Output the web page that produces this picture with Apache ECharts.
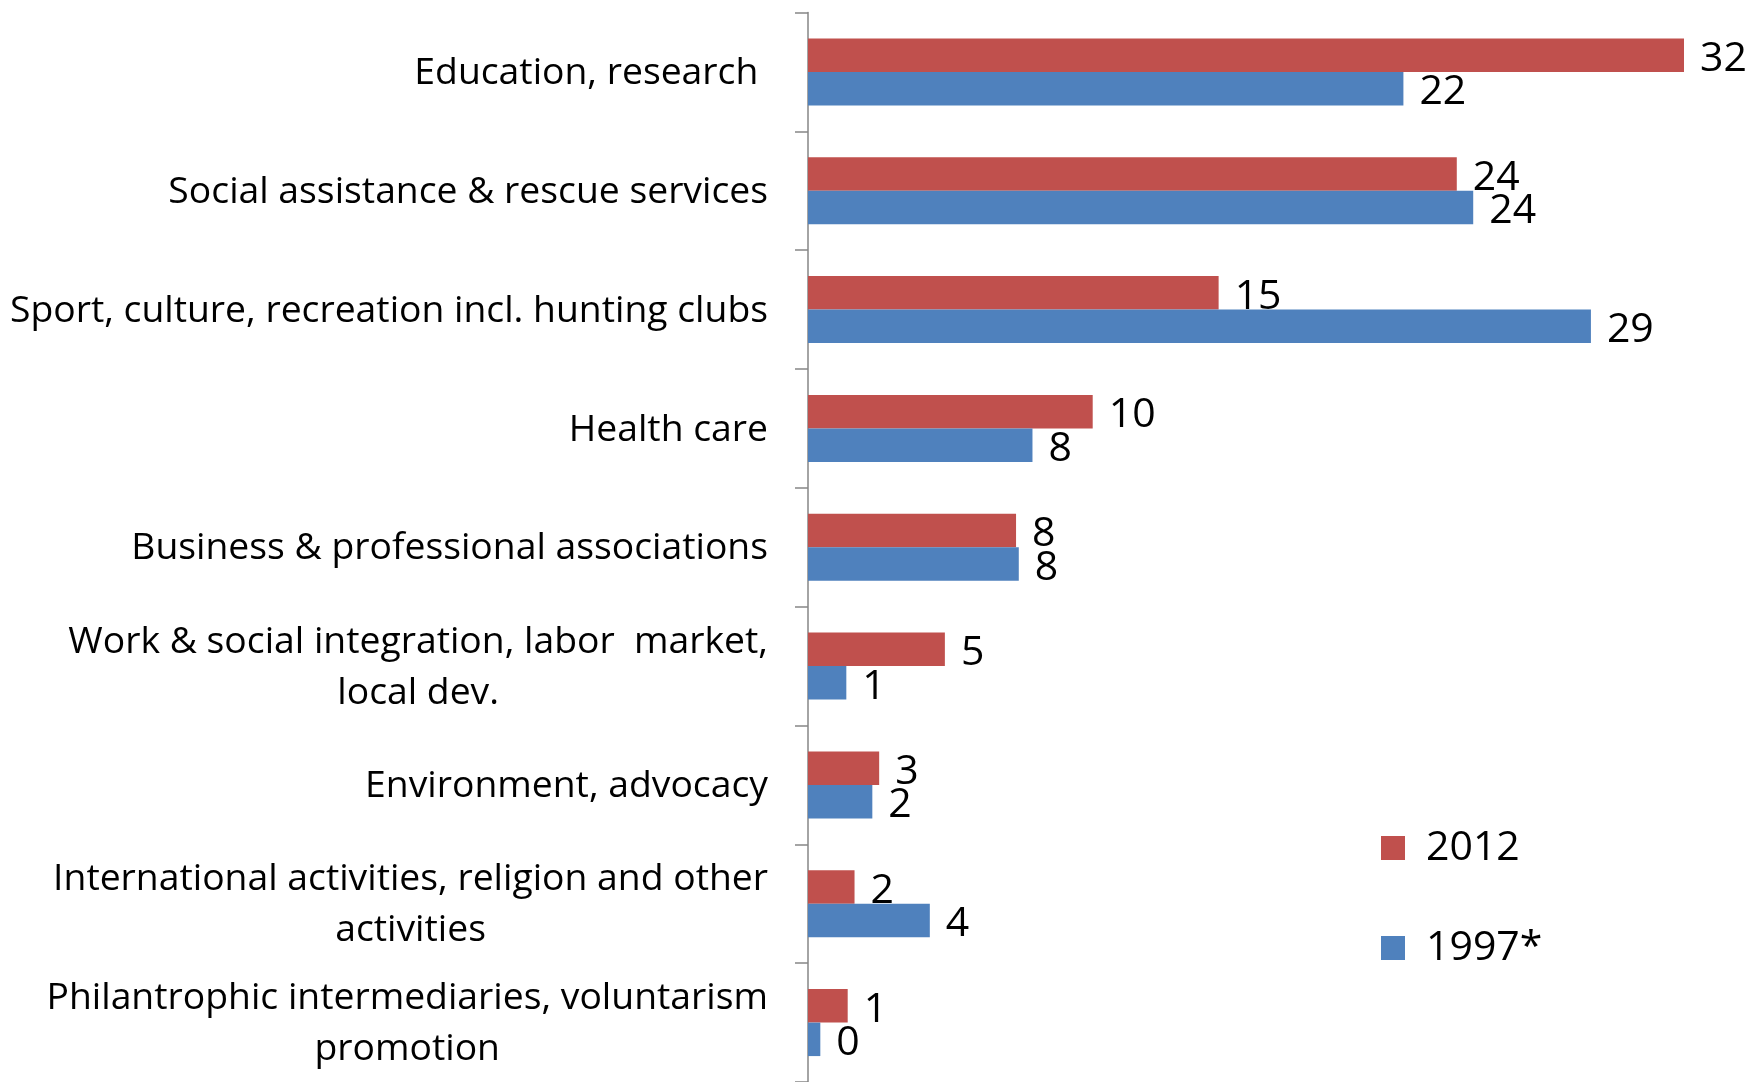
<!DOCTYPE html>
<html>
<head>
<meta charset="utf-8">
<script src="https://cdn.jsdelivr.net/npm/echarts@6/dist/echarts.min.js"></script>
<style>
  html, body { margin: 0; padding: 0; background: #ffffff; }
  #chart { width: 1750px; height: 1082px; }
</style>
</head>
<body>
<div id="chart"></div>
<script>
const categories = [
  "Education, research ",
  "Social assistance & rescue services",
  "Sport, culture, recreation incl. hunting clubs",
  "Health care",
  "Business & professional associations",
  "Work & social integration, labor  market,\nlocal dev.",
  "Environment, advocacy",
  "International activities, religion and other\nactivities",
  "Philantrophic intermediaries, voluntarism\npromotion"
];
const seriesNames = ["2012", "1997*"];
const values2012 = [32.0, 23.7, 15.0, 10.4, 7.6, 5.0, 2.6, 1.7, 1.45];
const values1997 = [21.75, 24.3, 28.6, 8.2, 7.7, 1.4, 2.35, 4.45, 0.45];

const FONT = '"Open Sans", "Noto Sans", sans-serif';
// fit category font size to the reference label width
const ctx = document.createElement('canvas').getContext('2d');
ctx.font = '100px "Open Sans"';
const wRef = ctx.measureText("Sport, culture, recreation incl. hunting clubs").width;
const catSize = Math.round(100 * 759 / wRef * 10) / 10;
const valSize = 41;

const chart = echarts.init(document.getElementById('chart'));
chart.setOption({
  animation: false,
  backgroundColor: '#ffffff',
  grid: { left: 808, top: 12.5, width: 876, height: 1073 },
  legend: {
    orient: 'vertical',
    left: 1381,
    top: 820,
    padding: 0,
    itemWidth: 24,
    itemHeight: 24,
    itemGap: 44,
    icon: 'rect',
    textStyle: { fontSize: valSize, fontFamily: FONT, color: '#000', lineHeight: 38, padding: [18, 0, 0, 16] },
    data: seriesNames
  },
  xAxis: {
    type: 'value', min: 0, max: 32,
    axisLine: { show: false }, axisTick: { show: false },
    axisLabel: { show: false }, splitLine: { show: false }
  },
  yAxis: {
    type: 'category',
    inverse: true,
    data: categories,
    axisLine: { show: true, lineStyle: { color: '#868686', width: 1.5 } },
    axisTick: { show: true, length: 13, lineStyle: { color: '#868686', width: 1.5 } },
    axisLabel: {
      margin: 40,
      color: '#000',
      fontSize: catSize,
      fontFamily: FONT,
      lineHeight: 51,
      align: 'right',
      formatter: function (v) {
        return v.split('\n').map(function (l) { return '{c|' + l + '}'; }).join('\n');
      },
      rich: {
        c: { fontSize: catSize, fontFamily: FONT, color: '#000', lineHeight: 51, align: 'center', padding: [3, 0, 0, 0] }
      }
    }
  },
  series: [
    {
      name: seriesNames[0], type: 'bar', data: values2012,
      barWidth: 33.5, barGap: '0%',
      itemStyle: { color: '#C0504D' },
      label: {
        show: true, position: 'right', distance: 16, offset: [0, 4],
        fontSize: valSize, fontFamily: FONT, color: '#000',
        formatter: function (p) { return String(Math.round(p.value)); }
      }
    },
    {
      name: seriesNames[1], type: 'bar', data: values1997,
      barWidth: 33.5, barGap: '0%',
      itemStyle: { color: '#4F81BD' },
      label: {
        show: true, position: 'right', distance: 16, offset: [0, 4],
        fontSize: valSize, fontFamily: FONT, color: '#000',
        formatter: function (p) { return String(Math.round(p.value)); }
      }
    }
  ]
});
</script>
</body>
</html>
